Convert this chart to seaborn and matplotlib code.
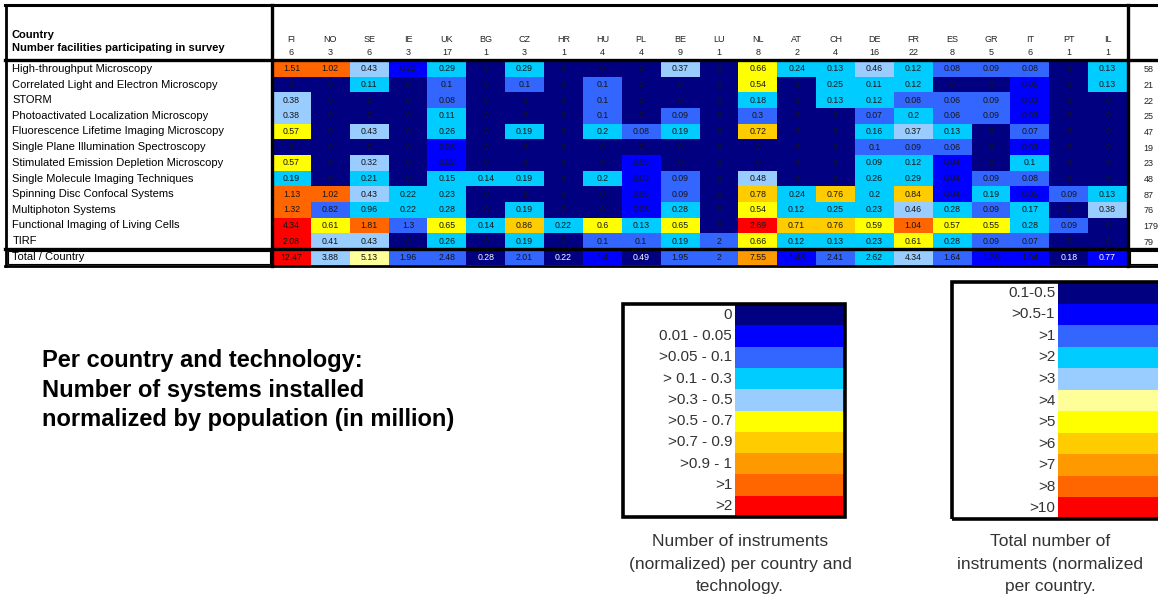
import numpy as np
import matplotlib
matplotlib.use("Agg")
import matplotlib.pyplot as plt
from matplotlib.colors import ListedColormap
from matplotlib.lines import Line2D
from matplotlib.patches import Rectangle
import seaborn as sns

countries = ["FI", "NO", "SE", "IE", "UK", "BG", "CZ", "HR", "HU", "PL", "BE",
             "LU", "NL", "AT", "CH", "DE", "FR", "ES", "GR", "IT", "PT", "IL"]
facilities = [6, 3, 6, 3, 17, 1, 3, 1, 4, 4, 9, 1, 8, 2, 4, 16, 22, 8, 5, 6, 1, 1]

techniques = ["High-throughput Microscopy",
              "Correlated Light and Electron Microscopy",
              "STORM",
              "Photoactivated Localization Microscopy",
              "Fluorescence Lifetime Imaging Microscopy",
              "Single Plane Illumination Spectroscopy",
              "Stimulated Emission Depletion Microscopy",
              "Single Molecule Imaging Techniques",
              "Spinning Disc Confocal Systems",
              "Multiphoton Systems",
              "Functional Imaging of Living Cells",
              "TIRF"]
technique_totals = [58, 21, 22, 25, 47, 19, 23, 48, 87, 76, 179, 79]

high_throughput = [1.51, 1.02, 0.43, 0.22, 0.29, 0, 0.29, 0, 0, 0, 0.37, 0, 0.66, 0.24, 0.13, 0.46, 0.12, 0.08, 0.09, 0.08, 0, 0.13]
clem = [0, 0, 0.11, 0, 0.1, 0, 0.1, 0, 0.1, 0, 0, 0, 0.54, 0, 0.25, 0.11, 0.12, 0, 0, 0.05, 0, 0.13]
storm = [0.38, 0, 0, 0, 0.08, 0, 0, 0, 0.1, 0, 0, 0, 0.18, 0, 0.13, 0.12, 0.08, 0.06, 0.09, 0.03, 0, 0]
palm = [0.38, 0, 0, 0, 0.11, 0, 0, 0, 0.1, 0, 0.09, 0, 0.3, 0, 0, 0.07, 0.2, 0.06, 0.09, 0.03, 0, 0]
flim = [0.57, 0, 0.43, 0, 0.26, 0, 0.19, 0, 0.2, 0.08, 0.19, 0, 0.72, 0, 0, 0.16, 0.37, 0.13, 0, 0.07, 0, 0]
spim = [0, 0, 0, 0, 0.05, 0, 0, 0, 0, 0, 0, 0, 0, 0, 0, 0.1, 0.09, 0.06, 0, 0.03, 0, 0]
sted = [0.57, 0, 0.32, 0, 0.02, 0, 0, 0, 0, 0.05, 0, 0, 0, 0, 0, 0.09, 0.12, 0.04, 0, 0.1, 0, 0]
smi = [0.19, 0, 0.21, 0, 0.15, 0.14, 0.19, 0, 0.2, 0.03, 0.09, 0, 0.48, 0, 0, 0.26, 0.29, 0.04, 0.09, 0.08, 0, 0]
spinning_disc = [1.13, 1.02, 0.43, 0.22, 0.23, 0, 0, 0, 0, 0.05, 0.09, 0, 0.78, 0.24, 0.76, 0.2, 0.84, 0.04, 0.19, 0.05, 0.09, 0.13]
multiphoton = [1.32, 0.82, 0.96, 0.22, 0.28, 0, 0.19, 0, 0, 0.05, 0.28, 0, 0.54, 0.12, 0.25, 0.23, 0.46, 0.28, 0.09, 0.17, 0, 0.38]
functional = [4.34, 0.61, 1.81, 1.3, 0.65, 0.14, 0.86, 0.22, 0.6, 0.13, 0.65, 0, 2.69, 0.71, 0.76, 0.59, 1.04, 0.57, 0.55, 0.28, 0.09, 0]
tirf = [2.08, 0.41, 0.43, 0, 0.26, 0, 0.19, 0, 0.1, 0.1, 0.19, 2, 0.66, 0.12, 0.13, 0.23, 0.61, 0.28, 0.09, 0.07, 0, 0]

country_totals = [12.47, 3.88, 5.13, 1.96, 2.48, 0.28, 2.01, 0.22, 1.4, 0.49, 1.95,
                  2, 7.55, 1.43, 2.41, 2.62, 4.34, 1.64, 1.28, 1.04, 0.18, 0.77]

# legend classes
tech_labels = ["0", "0.01 - 0.05", ">0.05 - 0.1", "> 0.1 - 0.3", ">0.3 - 0.5",
               ">0.5 - 0.7", ">0.7 - 0.9", ">0.9 - 1", ">1", ">2"]
tech_edges = [0, 0.05, 0.1, 0.3, 0.5, 0.7, 0.9, 1, 2]
tech_colors = ["#000080", "#0000FF", "#3366FF", "#00CCFF", "#99CCFF",
               "#FFFF00", "#FFCC00", "#FF9900", "#FF6600", "#FF0000"]

total_labels = ["0.1-0.5", ">0.5-1", ">1", ">2", ">3", ">4", ">5", ">6", ">7", ">8", ">10"]
total_edges = [0.5, 1, 2, 3, 4, 5, 6, 7, 8, 10]
total_colors = ["#000080", "#0000FF", "#3366FF", "#00CCFF", "#99CCFF", "#FFFF99",
                "#FFFF00", "#FFCC00", "#FF9900", "#FF6600", "#FF0000"]

# cells whose shading in the source does not follow the legend bins
shade_overrides = {(0, 3): 1, (3, 12): 2, (6, 15): 3, (6, 19): 3,
                   (9, 1): 2, (9, 2): 3, (10, 3): 2, (11, 11): 2}

values = np.array([high_throughput, clem, storm, palm, flim, spim, sted, smi,
                   spinning_disc, multiphoton, functional, tirf])
tech_class = np.searchsorted(tech_edges, values, side="left")
for (r, c), k in shade_overrides.items():
    tech_class[r, c] = k
totals = np.array(country_totals)
total_class = np.searchsorted(total_edges, totals, side="left")

W, H = 1158, 602
plt.rcParams["font.family"] = ["Liberation Sans", "DejaVu Sans"]
fig = plt.figure(figsize=(W / 100, H / 100), dpi=100)


def box(x0, y0, x1, y1):
    # pixel box (top-left origin) -> figure rect
    return [x0 / W, 1 - y1 / H, (x1 - x0) / W, (y1 - y0) / H]


def hline(y, x0, x1, lw):
    fig.add_artist(Line2D([x0 / W, x1 / W], [1 - y / H, 1 - y / H], color="black", lw=lw))


def vline(x, y0, y1, lw):
    fig.add_artist(Line2D([x / W, x / W], [1 - y0 / H, 1 - y1 / H], color="black", lw=lw))


# main table
ax = fig.add_axes(box(272, 61, 1127, 249))
sns.heatmap(tech_class, ax=ax, cmap=ListedColormap(tech_colors), vmin=-0.5, vmax=9.5,
            annot=values, fmt="g", cbar=False, linewidths=0,
            annot_kws={"size": 6.3, "color": "#161616"},
            xticklabels=[f"{c}\n{n}" for c, n in zip(countries, facilities)],
            yticklabels=techniques)
ax.xaxis.tick_top()
ax.tick_params(axis="x", length=0, pad=3, labelsize=6.5, labelcolor="#222222", rotation=0)
ax.tick_params(axis="y", length=0, pad=187, labelsize=8, rotation=0)
for t in ax.get_yticklabels():
    t.set_horizontalalignment("left")
for t in ax.get_xticklabels():
    t.set_linespacing(1.6)

ax2 = ax.twinx()
ax2.set_ylim(ax.get_ylim())
ax2.set_yticks(np.arange(len(techniques)) + 0.5)
ax2.set_yticklabels(technique_totals, fontsize=6.5, color="#222222")
ax2.tick_params(axis="y", length=0, pad=12)
for s in ax2.spines.values():
    s.set_visible(False)

# totals row
axt = fig.add_axes(box(272, 250, 1127, 265))
sns.heatmap(totals.reshape(1, -1), ax=axt, cmap=ListedColormap(total_colors),
            vmin=-0.5, vmax=10.5, annot=True, fmt="g", cbar=False,
            annot_kws={"size": 6.3}, xticklabels=False, yticklabels=False)
axt.set_facecolor("none")
for t, k in zip(axt.texts, total_class):
    t.set_color("white" if k <= 1 else "#161616")
fig.text(12 / W, 1 - 257 / H, "Total / Country", fontsize=8, va="center")

# header text
fig.text(12 / W, 1 - 35 / H, "Country", fontsize=8, fontweight="bold", va="center")
fig.text(12 / W, 1 - 48 / H, "Number facilities participating in survey",
         fontsize=8, fontweight="bold", va="center")

# table rules
hline(5, 5, W, 2.2)
hline(60, 5, W, 2.4)
hline(249, 5, W, 2.4)
hline(266, 5, W, 2.0)
vline(6, 5, 266, 2.0)
vline(272, 5, 266, 2.4)
vline(1128, 5, 266, 2.4)
fig.add_artist(Rectangle((8 / W, 1 - 264 / H), 262 / W, 13 / H, fill=False, lw=0.8,
                         transform=fig.transFigure))
fig.add_artist(Rectangle((1130 / W, 1 - 264 / H), 30 / W, 13 / H, fill=False, lw=0.8,
                         transform=fig.transFigure))

# description
fig.text(42 / W, 1 - 390 / H,
         "Per country and technology:\nNumber of systems installed\nnormalized by population (in million)",
         fontsize=17, fontweight="bold", va="center", linespacing=1.38)


def legend(x0, y0, x1, y1, xsplit, colors, labels, caption, cx):
    lax = fig.add_axes(box(xsplit, y0, x1, y1))
    sns.heatmap(np.arange(len(colors)).reshape(-1, 1), ax=lax, cmap=ListedColormap(colors),
                vmin=-0.5, vmax=len(colors) - 0.5, cbar=False,
                xticklabels=False, yticklabels=labels)
    lax.tick_params(axis="y", length=0, pad=2, labelsize=11, labelcolor="#333333", rotation=0)
    fig.add_artist(Rectangle((x0 / W, 1 - y1 / H), (x1 - x0) / W, (y1 - y0) / H,
                             fill=False, lw=2.6, transform=fig.transFigure))
    fig.text(cx / W, 1 - 564 / H, caption, fontsize=12.5, ha="center", va="center",
             color="#333333", linespacing=1.6)


legend(623, 304, 845, 517, 735, tech_colors, tech_labels,
       "Number of instruments\n(normalized) per country and\ntechnology.", 740)
legend(952, 282, 1175, 519, 1058, total_colors, total_labels,
       "Total number of\ninstruments (normalized\nper country.", 1050)

fig.savefig("out.png", dpi=100)
